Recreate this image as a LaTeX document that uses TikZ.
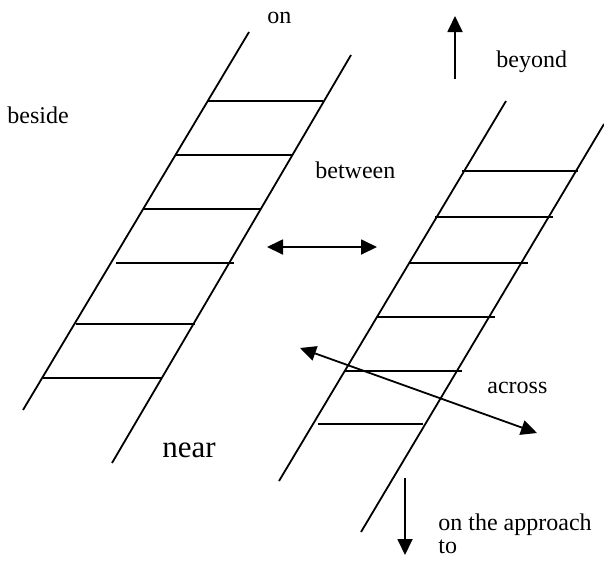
\documentclass[tikz,border=0pt]{standalone}
\usepackage{fontspec}
\setmainfont{Liberation Serif}
\usetikzlibrary{arrows.meta}
\begin{document}
\begin{tikzpicture}[x=0.5pt,y=-0.5pt,
  rail/.style={line width=0.9pt},
  rung/.style={line width=1pt},
  arr/.style={line width=0.9pt,-{Triangle[length=8pt,width=7.5pt]}},
  darr/.style={line width=0.9pt,{Triangle[length=8pt,width=7.5pt]}-{Triangle[length=8pt,width=7.5pt]}},
  lbl/.style={font=\fontsize{12}{14}\selectfont,anchor=base west,inner sep=0pt},
  biglbl/.style={font=\fontsize{15.5}{18}\selectfont,anchor=base west,inner sep=0pt}]
\useasboundingbox (0,0) rectangle (604,563);
% left ladder
\draw[rail] (249,32) -- (23,410);
\draw[rail] (351,55) -- (112,463);
\draw[rung] (208,101) -- (323,101);
\draw[rung] (176,155) -- (292,155);
\draw[rung] (144,209) -- (260,209);
\draw[rung] (116,263) -- (234,263);
\draw[rung] (76,324) -- (195,324);
\draw[rung] (43,378) -- (162,378);
% right ladder
\draw[rail] (506,101) -- (279,481);
\draw[rail] (604,124) -- (361,532);
\draw[rung] (462,171) -- (578,171);
\draw[rung] (435,217) -- (553,217);
\draw[rung] (409,263) -- (528,263);
\draw[rung] (377,317) -- (495,317);
\draw[rung] (344,371) -- (462,371);
\draw[rung] (318,424) -- (423,424);
% arrow end points
\coordinate (betL) at (267,247);
\coordinate (betR) at (377,247);
\coordinate (acrA) at (300,348);
\coordinate (acrB) at (537,433);
\coordinate (beyS) at (455,79);
\coordinate (beyT) at (455,16);
\coordinate (appS) at (405,478);
\coordinate (appT) at (405,555);
\draw[darr] (betL) -- (betR);
\draw[darr] (acrA) -- (acrB);
\draw[arr] (beyS) -- (beyT);
\draw[arr] (appS) -- (appT);
% labels
\node[lbl] (on) at (267,23) {on};
\node[lbl] (beside) at (7,123) {beside};
\node[lbl] (between) at (315,178) {between};
\node[lbl] (beyond) at (496,67) {beyond};
\node[lbl] (across) at (487,393) {across};
\node[biglbl] (near) at (162,457) {near};
\node[lbl] (appr) at (438,530) {on the approach};
\node[lbl] (to) at (438,553) {to};
\end{tikzpicture}
\end{document}
